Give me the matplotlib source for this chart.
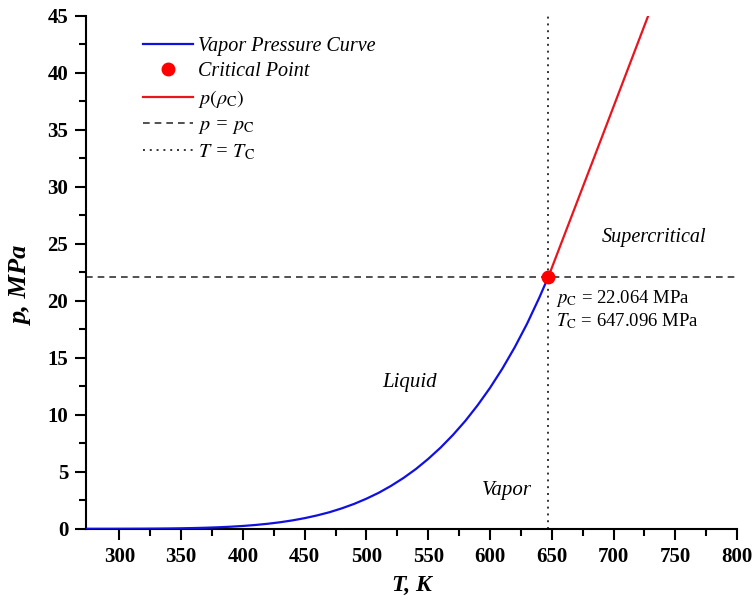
import matplotlib
matplotlib.use('Agg')
import matplotlib.pyplot as plt

plt.rcParams['font.family'] = ['Liberation Serif', 'DejaVu Serif']
plt.rcParams['mathtext.fontset'] = 'stix'

# saturation pressure of water, T in K, p in MPa
T_sat = [273.16, 280, 290, 300, 310, 320, 330, 340, 350, 360, 370, 380, 390,
         400, 410, 420, 430, 440, 450, 460, 470, 480, 490, 500, 510, 520, 530,
         540, 550, 560, 570, 580, 590, 600, 610, 620, 630, 640, 645, 647.096]
p_sat = [0.0006, 0.001, 0.0019, 0.0035, 0.0062, 0.0106, 0.0172, 0.0272,
         0.0417, 0.0623, 0.0908, 0.129, 0.180, 0.246, 0.331, 0.437, 0.570,
         0.733, 0.932, 1.17, 1.45, 1.79, 2.18, 2.64, 3.16, 3.77, 4.46, 5.24,
         6.13, 7.12, 8.23, 9.46, 10.84, 12.36, 14.05, 15.92, 17.99, 20.30,
         21.55, 22.064]

# critical isochore
T_iso = [647.096, 690, 728]
p_iso = [22.064, 34.2, 45.0]

T_c = 647.096
p_c = 22.064

fig = plt.figure(figsize=(7.56, 6.12), dpi=100)
ax = fig.add_axes([0.114, 0.136, 0.861, 0.838])

ax.plot(T_sat, p_sat, color='#1010e0', lw=1.6, label='Vapor Pressure Curve', zorder=3)
ax.plot([T_c], [p_c], 'o', color='#ff0000', ms=9, label='Critical Point', zorder=5)
ax.plot(T_iso, p_iso, color='#e8141e', lw=1.6, label=r'$p(\rho_{\mathrm{C}})$', zorder=3)
ax.axhline(p_c, color='#333333', lw=1.2, ls=(0, (4, 3)), label=r'$p$ = $p_{\mathrm{C}}$', zorder=2)
ax.axvline(T_c, color='#333333', lw=1.4, ls=(0, (1, 2.5)), label=r'$T$ = $T_{\mathrm{C}}$', zorder=2)

ax.set_xlim(273.16, 800)
ax.set_ylim(0, 45)
ax.set_xticks(range(300, 801, 50))
ax.set_xticks(range(325, 800, 50), minor=True)
ax.set_yticks(range(0, 46, 5))
ax.set_yticks([2.5 + 5 * i for i in range(9)], minor=True)

for s in ['top', 'right']:
  ax.spines[s].set_visible(False)
for s in ['left', 'bottom']:
  ax.spines[s].set_linewidth(1.5)
ax.tick_params(which='major', direction='out', length=8, width=1.5, labelsize=15, pad=5)
ax.tick_params(which='minor', direction='out', length=5, width=1.5)
for lbl in ax.get_xticklabels() + ax.get_yticklabels():
  lbl.set_fontweight('bold')

ax.set_xlabel('T, K', fontsize=17, fontweight='bold', style='italic', labelpad=6)
ax.set_ylabel('p, MPa', fontsize=19, fontweight='bold', style='italic')
ax.yaxis.set_label_coords(-0.082, 0.474)

ax.text(535, 12.8, 'Liquid', fontsize=15, style='italic', ha='center', va='center')
ax.text(614, 3.4, 'Vapor', fontsize=15, style='italic', ha='center', va='center')
ax.text(733, 25.6, 'Supercritical', fontsize=14.5, style='italic', ha='center', va='center')
ax.text(653.5, 20.2, r'$p_{\mathrm{C}}$ = 22.064 MPa', fontsize=13.5, ha='left', va='center')
ax.text(653.5, 18.2, r'$T_{\mathrm{C}}$ = 647.096 MPa', fontsize=13.5, ha='left', va='center')

leg = ax.legend(loc='upper left', bbox_to_anchor=(0.06, 0.995), frameon=False,
                prop={'size': 14.5, 'style': 'italic'}, handlelength=2.45,
                handletextpad=0.25, labelspacing=0.32)

fig.savefig('out.png', dpi=100)
